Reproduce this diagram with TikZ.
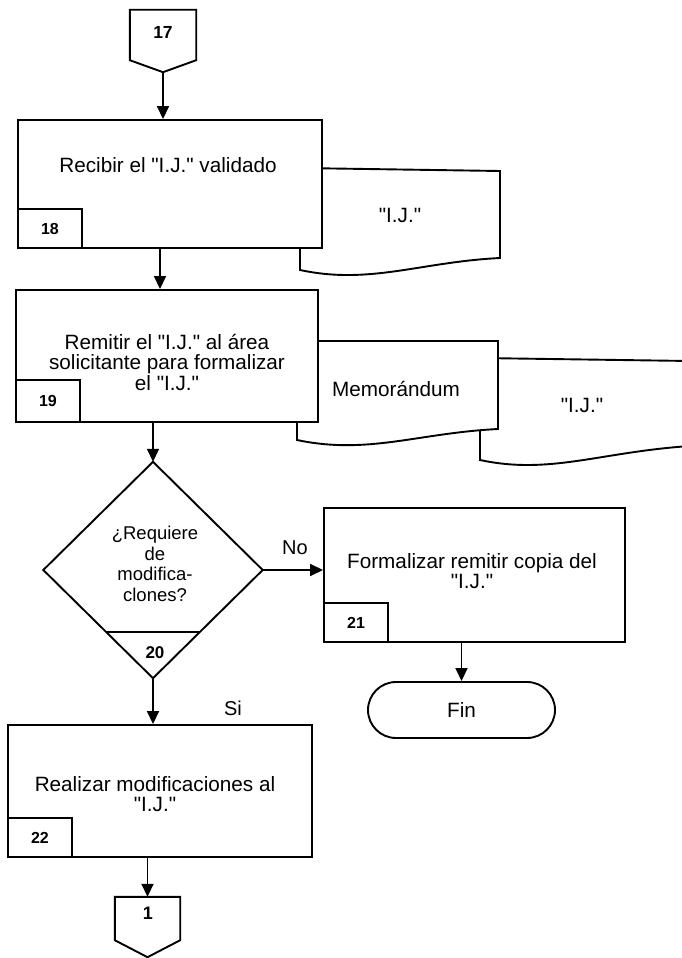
\documentclass[tikz,border=0pt]{standalone}
\usepackage{fontspec}
\setmainfont{Liberation Sans}[Ligatures=TeXOff]
\usetikzlibrary{arrows.meta,calc}

\newcommand\bodyfont{\fontsize{20.7}{20.5}\selectfont}
\newcommand\askfont{\fontsize{18.5}{20.6}\selectfont}
\newcommand\numfont{\fontsize{16}{16}\selectfont\bfseries}

\tikzset{
  outline/.style={draw=black, line width=1.9pt, line join=miter},
  procbox/.style={outline, fill=white, inner sep=0pt},
  numbox/.style={outline, fill=white, inner sep=0pt, anchor=south west,
                 minimum width=64pt, minimum height=39pt, font=\numfont},
  txt/.style={inner sep=0pt, align=center, font=\bodyfont},
  hidden/.style={inner sep=0pt, draw=none},
  arr/.style={line width=1.6pt, -{Triangle[length=13pt,width=12pt]}},
}

\begin{document}
\begin{tikzpicture}[x=1pt, y=-1pt]
\useasboundingbox (0,0) rectangle (682,958);
\clip (0,0) rectangle (682,958);

% ---- off-page connector 17
\node[hidden, minimum width=66pt, minimum height=62pt] (c17) at (163,41) {};
\draw[outline] (c17.north west) -- (c17.north east) -- ([yshift=12pt]c17.south east)
  -- (c17.south) -- ([yshift=12pt]c17.south west) -- cycle;
\node[inner sep=0pt, font=\numfont\fontsize{17.5}{17.5}\selectfont] (c17t) at (163,32) {17};

% ---- document "I.J." attached to step 18
\draw[outline, fill=white] (300,168) -- (500,171) -- (500,258)
  .. controls (420,262) and (370,285) .. (300,270) -- cycle;
\node[txt] (doc18) at (400,215) {"I.J."};

% ---- step 18
\node[procbox, minimum width=304pt, minimum height=128pt] (b18) at (170,184) {};
\node[txt] (t18) at (168,165) {Recibir el "I.J." validado};
\node[numbox] (n18) at (b18.south west) {18};

% ---- documents attached to step 19
\draw[outline, fill=white] (480,358) -- (690,361) -- (690,446)
  .. controls (600,452) and (550,475) .. (480,460) -- cycle;
\node[txt] (doc19b) at (582,405) {"I.J."};
\draw[outline, fill=white] (297,341) -- (498,341) -- (498,429)
  .. controls (418,433) and (368,455) .. (297,440) -- cycle;
\node[txt] (doc19a) at (396,389) {Memorándum};

% ---- step 19
\node[procbox, minimum width=302pt, minimum height=132pt] (b19) at (167,356) {};
\node[txt] (t19) at (167,362) {Remitir el "I.J." al área\\solicitante para formalizar\\el "I.J."};
\node[numbox, minimum height=42pt] (n19) at (b19.south west) {19};

% ---- decision 20
\node[hidden, minimum width=219pt, minimum height=216pt] (d) at (153,570) {};
\draw[outline] (d.north) -- (d.east) -- (d.south) -- (d.west) -- cycle;
\draw[outline] ($(d.south)!0.426!(d.west)$) -- ($(d.south)!0.426!(d.east)$);
\node[txt, font=\askfont] (q20) at (155,564) {¿Requiere\\de\\modifica-\\clones?};
\node[inner sep=0pt, font=\numfont\fontsize{17}{17}\selectfont] (n20) at (155,653) {20};

% ---- step 21
\node[procbox, minimum width=301pt, minimum height=134pt] (b21) at (474.5,575) {};
\node[txt] (t21) at (472,571) {Formalizar remitir copia del\\"I.J."};
\node[numbox] (n21) at (b21.south west) {21};

% ---- terminal
\node[outline, rounded corners=28pt, minimum width=187pt, minimum height=56pt,
      inner sep=0pt, font=\bodyfont] (fin) at (461.5,710) {Fin};

% ---- step 22
\node[procbox, minimum width=304pt, minimum height=132pt] (b22) at (160,791) {};
\node[txt] (t22) at (155,794) {Realizar modificaciones al\\"I.J."};
\node[numbox] (n22) at (b22.south west) {22};

% ---- off-page connector 1
\node[hidden, minimum width=65pt, minimum height=60pt] (c1) at (147.5,927) {};
\draw[outline] (c1.north west) -- (c1.north east) -- ([yshift=17pt]c1.south east)
  -- (c1.south) -- ([yshift=17pt]c1.south west) -- cycle;
\node[inner sep=0pt, font=\numfont\fontsize{18}{18}\selectfont] (c1t) at (148,913) {1};

% ---- branch labels
\node[inner sep=0pt, font=\fontsize{20}{20}\selectfont] (lno) at (295,548) {No};
\node[inner sep=0pt, font=\fontsize{20}{20}\selectfont] (lsi) at (233,708) {Si};

% ---- flow connectors
\draw[arr] (c17.south) -- (c17.south |- b18.north);
\draw[arr] ([xshift=-10pt]b18.south) -- ([xshift=-10pt]b18.south |- b19.north);
\draw[arr] (b19.south -| d.north) -- (d.north);
\draw[arr] (d.east) -- (d.east -| b21.west);
\draw[arr] (d.south) -- (d.south |- b22.north);
\draw[arr] (b21.south -| fin.north) -- (fin.north);
\draw[arr] (b22.south -| c1.north) -- (c1.north);
\end{tikzpicture}
\end{document}
